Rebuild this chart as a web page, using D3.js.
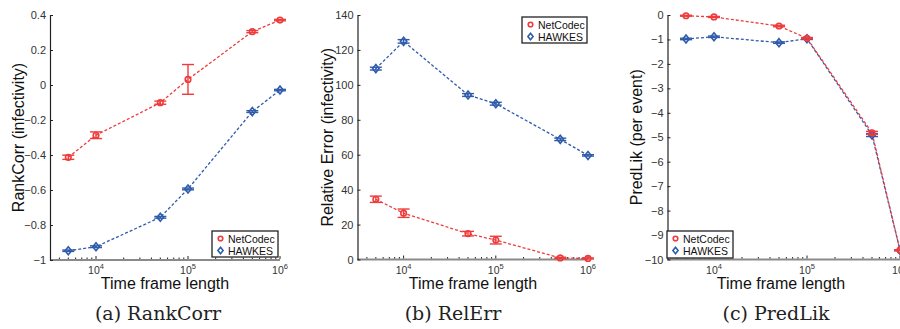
<!DOCTYPE html>
<html><head><meta charset="utf-8">
<script src="https://cdn.jsdelivr.net/npm/d3@7"></script>
<style>
body{margin:0;background:#fff;}
svg{display:block;}
</style></head>
<body>
<svg id="chart" width="900" height="329"></svg>
<script>
// ---------- data ----------
const timeFrames = [5000, 10000, 50000, 100000, 500000, 1000000];
const seriesNames = ["NetCodec", "HAWKES"];
const xTickValues = [1e4, 1e5, 1e6];
const xTickExponents = ["4", "5", "6"];

const rankCorrNet = [-0.413, -0.287, -0.101, 0.032, 0.305, 0.371];
const rankCorrNetErr = [0.012, 0.019, 0.009, 0.085, 0.006, 0.004];
const rankCorrHawkes = [-0.947, -0.924, -0.756, -0.594, -0.152, -0.029];
const rankCorrHawkesErr = [0.004, 0.005, 0.005, 0.005, 0.005, 0.004];

const relErrNet = [34.5, 26.5, 14.8, 11.1, 0.9, 0.6];
const relErrNetErr = [1.8, 2.4, 1.3, 2.2, 0.4, 0.3];
const relErrHawkes = [109.3, 124.9, 94.2, 89.2, 68.8, 59.6];
const relErrHawkesErr = [0.8, 1.0, 0.8, 0.8, 0.7, 0.4];

const predLikNet = [-0.03, -0.08, -0.45, -0.95, -4.82, -9.62];
const predLikNetErr = [0.02, 0.02, 0.03, 0.03, 0.06, 0.02];
const predLikHawkes = [-0.98, -0.89, -1.13, -0.97, -4.91, -9.62];
const predLikHawkesErr = [0.03, 0.03, 0.03, 0.03, 0.06, 0.02];

const yTicksA = [0.4, 0.2, 0, -0.2, -0.4, -0.6, -0.8, -1];
const yTicksB = [0, 20, 40, 60, 80, 100, 120, 140];
const yTicksC = [0, -1, -2, -3, -4, -5, -6, -7, -8, -9, -10];

const yLabels = ["RankCorr (infectivity)", "Relative Error (infectivity)", "PredLik (per event)"];
const xLabel = "Time frame length";
const captions = ["(a) RankCorr", "(b) RelErr", "(c) PredLik"];

// ---------- layout ----------
const RED = "#ef3b3b", BLUE = "#2f5bab";
const panels = [
  {x0: 50, x1: 280, yDom: [-1, 0.4], yTop: 15, yBot: 260, yTicks: yTicksA,
   net: rankCorrNet, netErr: rankCorrNetErr, hk: rankCorrHawkes, hkErr: rankCorrHawkesErr,
   yLabelX: 18, xLabelX: 165, capX: 158, legend: {x: 212, y: 231, w: 66, h: 26}},
  {x0: 357.5, x1: 588, yDom: [0, 140], yTop: 15, yBot: 259.5, yTicks: yTicksB,
   net: relErrNet, netErr: relErrNetErr, hk: relErrHawkes, hkErr: relErrHawkesErr,
   yLabelX: 327, xLabelX: 473, capX: 453, legend: {x: 522, y: 17, w: 65, h: 26}},
  {x0: 667.5, x1: 900, yDom: [-10, 0], yTop: 15, yBot: 259.5, yTicks: yTicksC,
   net: predLikNet, netErr: predLikNetErr, hk: predLikHawkes, hkErr: predLikHawkesErr,
   yLabelX: 636, xLabelX: 781, capX: 776, legend: {x: 667, y: 231, w: 66, h: 27}}
];

const svg = d3.select("#chart");
const sansFont = "'Liberation Sans', Arial, sans-serif";
const serifFont = "'DejaVu Serif', 'Liberation Serif', serif";
const fmt = v => (v < 0 ? "\u2212" : "") + String(Math.abs(v));

panels.forEach((p, pi) => {
  const x = d3.scaleLog().domain([Math.pow(10, 3.5), 1e6]).range([p.x0, p.x1]);
  const y = d3.scaleLinear().domain(p.yDom).range([p.yBot, p.yTop]);
  const g = svg.append("g");

  // x axis line (gray) + ticks
  g.append("line").attr("x1", p.x0).attr("x2", p.x1).attr("y1", p.yBot).attr("y2", p.yBot)
    .attr("stroke", "#8a8a8a").attr("stroke-width", 2);
  const minor = [];
  for (let e = 3; e <= 5; e++) for (let m = 1; m <= 9; m++) {
    const v = m * Math.pow(10, e);
    if (v >= Math.pow(10, 3.5) && v <= 1e6 && m !== 1) minor.push(v);
  }
  g.selectAll(".minor").data(minor).enter().append("line")
    .attr("x1", d => x(d)).attr("x2", d => x(d)).attr("y1", p.yBot - 1).attr("y2", p.yBot - 2.5)
    .attr("stroke", "#222").attr("stroke-width", 1);
  g.selectAll(".major").data(xTickValues).enter().append("line")
    .attr("x1", d => x(d)).attr("x2", d => x(d)).attr("y1", p.yBot - 1).attr("y2", p.yBot - 4)
    .attr("stroke", "#222").attr("stroke-width", 1);
  xTickValues.forEach((v, i) => {
    const t = g.append("text").attr("x", x(v)).attr("y", p.yBot + 14)
      .attr("text-anchor", "middle").attr("font-family", sansFont).attr("font-size", 10.5).attr("fill", "#333");
    t.append("tspan").text("10");
    t.append("tspan").attr("dy", -5).attr("font-size", 7.5).text(xTickExponents[i]);
  });

  // y axis
  const ya = d3.axisLeft(y).tickValues(p.yTicks).tickFormat(fmt).tickSizeInner(-3).tickSizeOuter(0).tickPadding(4);
  const yg = g.append("g").attr("transform", `translate(${p.x0},0)`).call(ya);
  yg.select(".domain").attr("stroke", "#222").attr("stroke-width", 1.2);
  yg.selectAll(".tick line").attr("stroke", "#222");
  yg.selectAll(".tick text").attr("font-family", sansFont).attr("font-size", 11).attr("fill", "#333");

  // labels
  g.append("text").attr("transform", `translate(${p.yLabelX},${(p.yTop + p.yBot) / 2}) rotate(-90)`)
    .attr("text-anchor", "middle").attr("dominant-baseline", "central")
    .attr("font-family", sansFont).attr("font-size", 16).attr("fill", "#111").text(yLabels[pi]);
  g.append("text").attr("x", p.xLabelX).attr("y", 289).attr("text-anchor", "middle")
    .attr("font-family", sansFont).attr("font-size", 16).attr("fill", "#111").text(xLabel);
  g.append("text").attr("x", p.capX).attr("y", 320).attr("text-anchor", "middle")
    .attr("font-family", serifFont).attr("font-size", 19).attr("fill", "#222").text(captions[pi]);

  // series
  const line = d3.line().x(d => x(d[0])).y(d => y(d[1]));
  const drawSeries = (vals, errs, color, shape) => {
    const pts = timeFrames.map((t, i) => [t, vals[i], errs[i]]);
    g.append("path").datum(pts).attr("d", line).attr("fill", "none")
      .attr("stroke", color).attr("stroke-width", 1.3).attr("stroke-dasharray", "3,2");
    const eg = g.append("g").attr("stroke", color).attr("stroke-width", 1.4);
    pts.forEach(d => {
      const cx = x(d[0]), y1 = y(d[1] + d[2]), y2 = y(d[1] - d[2]);
      eg.append("line").attr("x1", cx).attr("x2", cx).attr("y1", y1).attr("y2", y2);
      eg.append("line").attr("x1", cx - 6).attr("x2", cx + 6).attr("y1", y1).attr("y2", y1);
      eg.append("line").attr("x1", cx - 6).attr("x2", cx + 6).attr("y1", y2).attr("y2", y2);
    });
    pts.forEach(d => {
      const cx = x(d[0]), cy = y(d[1]);
      if (shape === "circle") {
        g.append("circle").attr("cx", cx).attr("cy", cy).attr("r", 2.8)
          .attr("fill", "none").attr("stroke", color).attr("stroke-width", 1.6);
      } else {
        g.append("path").attr("d", `M${cx},${cy - 4}L${cx + 3.2},${cy}L${cx},${cy + 4}L${cx - 3.2},${cy}Z`)
          .attr("fill", "none").attr("stroke", color).attr("stroke-width", 1.6);
      }
    });
  };
  drawSeries(p.hk, p.hkErr, BLUE, "diamond");
  drawSeries(p.net, p.netErr, RED, "circle");

  // legend
  const L = p.legend;
  const lg = g.append("g");
  lg.append("rect").attr("x", L.x).attr("y", L.y).attr("width", L.w).attr("height", L.h)
    .attr("fill", "#fff").attr("stroke", "#222").attr("stroke-width", 1.3);
  const rowY = [L.y + 7.5, L.y + 19.5];
  lg.append("circle").attr("cx", L.x + 8.5).attr("cy", rowY[0]).attr("r", 2.3)
    .attr("fill", "none").attr("stroke", RED).attr("stroke-width", 1.6);
  const dx = L.x + 8.5, dy = rowY[1];
  lg.append("path").attr("d", `M${dx},${dy - 3.2}L${dx + 2.6},${dy}L${dx},${dy + 3.2}L${dx - 2.6},${dy}Z`)
    .attr("fill", "none").attr("stroke", BLUE).attr("stroke-width", 1.6);
  seriesNames.forEach((n, i) => {
    lg.append("text").attr("x", L.x + 16).attr("y", rowY[i]).attr("dominant-baseline", "central")
      .attr("font-family", sansFont).attr("font-size", 10.5).attr("fill", "#111").text(n);
  });
});
</script>
</body></html>
